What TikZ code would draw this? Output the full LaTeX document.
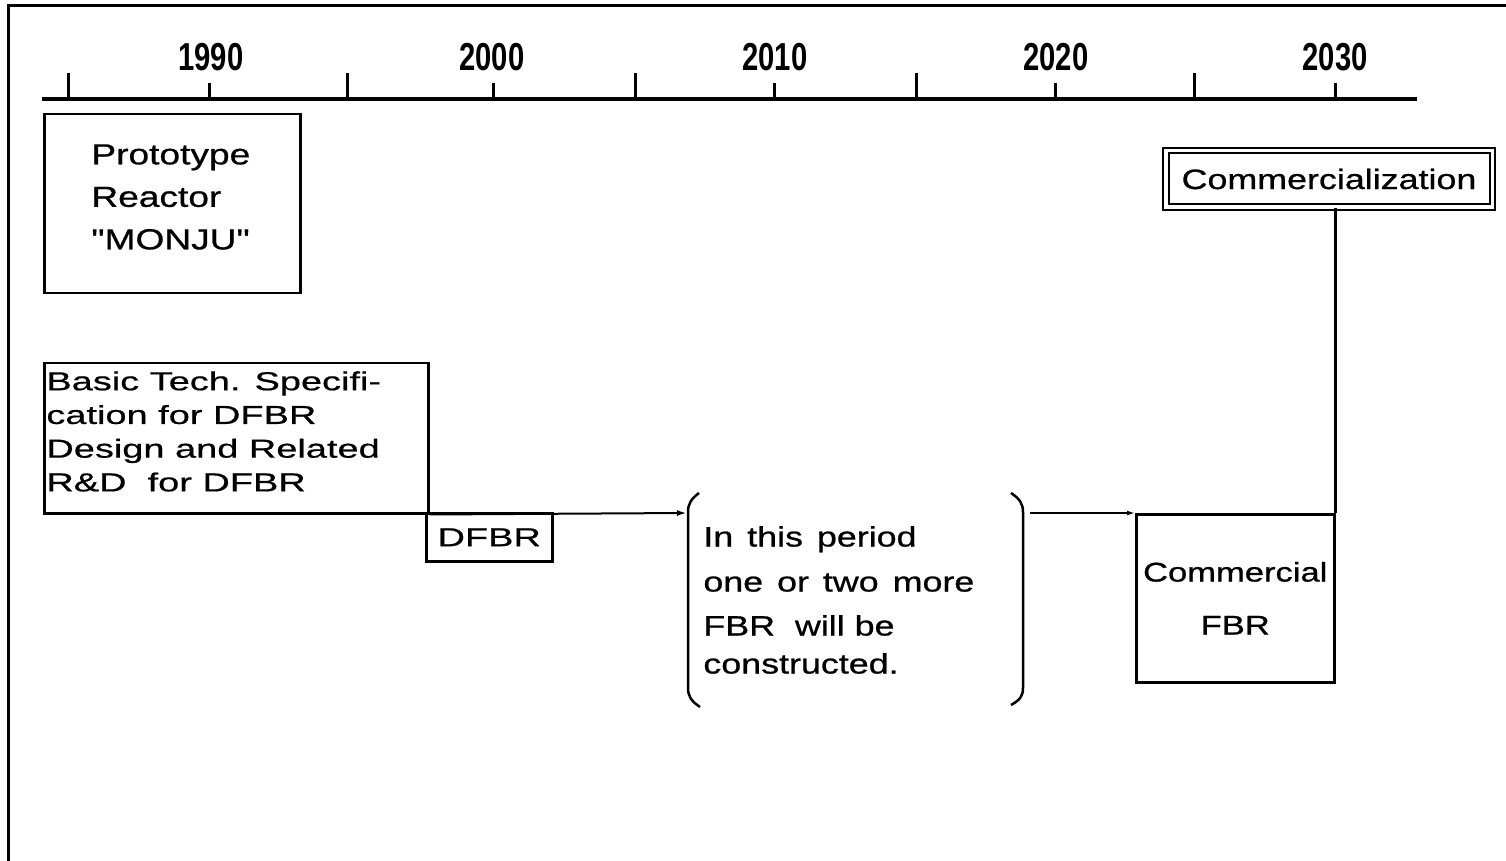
\documentclass[tikz,border=0pt]{standalone}
\usepackage{fontspec}
\usetikzlibrary{arrows.meta}
\newfontfamily\mainf[FakeStretch=1.28,FakeBold=0.8]{Liberation Sans}
\newfontfamily\widef[FakeStretch=1.46,FakeBold=0.6]{Liberation Sans}
\newfontfamily\yearf[FakeStretch=0.75]{Liberation Sans}
\newcommand\gap{\ \hspace{2pt}}
\begin{document}
\begin{tikzpicture}[x=0.5pt,y=-0.5pt]
\useasboundingbox (0,0) rectangle (1506,861);
\tikzset{
  frame/.style={line width=1.5pt},
  axisline/.style={line width=1.75pt},
  tickmark/.style={line width=1.5pt},
  year/.style={font=\yearf\bfseries\fontsize{19.5}{22}\selectfont, inner sep=0},
  box/.style={draw, line width=1.25pt, inner sep=0, anchor=north west},
  txt/.style={font=\mainf\fontsize{14}{21}\selectfont, inner sep=0, align=left},
  widetxt/.style={font=\widef\fontsize{13}{16.85}\selectfont, inner sep=0, align=left},
  conn/.style={line width=1pt},
  brk/.style={line width=1.25pt},
  tip/.style={-{Latex[length=5pt,width=3pt]}}
}
% frame
\draw[frame] (8,861) -- (8,6) -- (1506,6);
% axis
\draw[axisline] (42,99) -- (1417,99);
\foreach \x in {68,347,635,916,1194} \draw[tickmark] (\x,73) -- (\x,99);
\foreach \x in {209,493,774,1055,1335} \draw[tickmark] (\x,83) -- (\x,99);
\node[year] (y1990) at (211,57) {1990};
\node[year] (y2000) at (492,57) {2000};
\node[year] (y2010) at (775,57) {2010};
\node[year] (y2020) at (1056,57) {2020};
\node[year] (y2030) at (1335,57) {2030};
% MONJU
\node[box, minimum width=128pt, minimum height=89.5pt] (monju) at (43,113) {};
\node[txt, anchor=west, font=\mainf\fontsize{14.5}{21.25}\selectfont] (monjut) at (91,197) {Prototype\\Reactor\\"MONJU"};
% Basic tech
\node[box, minimum width=192pt, minimum height=75pt] (basic) at (43,362) {};
\node[widetxt, anchor=west] (basict) at (46,431.5) {Basic Tech. Specifi-\\cation for DFBR\\Design and Related\\R\&D\ \ for DFBR};
% DFBR
\node[box, minimum width=63pt, minimum height=24pt, font=\widef\fontsize{13}{16}\selectfont] (dfbr) at (425,512) {DFBR};
% brackets
\draw[brk] (699,493) .. controls (691,499) and (688,504) .. (688,512) -- (688,688) .. controls (688,696) and (691,701) .. (700,707);
\draw[brk] (1011,493) .. controls (1020,499) and (1023,504) .. (1023,512) -- (1023,688) .. controls (1023,696) and (1020,700) .. (1011,705);
\coordinate (lb) at (687,513);
\coordinate (rb) at (1030,513);
\node[txt, anchor=west, font=\mainf\fontsize{14}{19}\selectfont] (period) at (703,600) {In\gap this\gap period\\[3.5pt]one\gap or\gap two\gap more\\[3pt]FBR\ \ will\ be\\constructed.};
% Commercial FBR
\node[box, minimum width=99pt, minimum height=84pt, align=center, font=\mainf\fontsize{13.5}{26.5}\selectfont] (cfbr) at (1135,513) {Commercial\\FBR};
% Commercialization
\node[draw, double, double distance=1.75pt, line width=1pt, minimum width=163.25pt, minimum height=28.25pt, inner sep=0, font=\mainf\fontsize{14}{18}\selectfont] (comm) at (1329,179) {Commercialization};
% connectors
\draw[conn, tip] (basic.south east) -- (lb);
\draw[conn, -{Latex[length=4pt,width=2.5pt]}] (rb) -- (cfbr.north west);
\draw[line width=1.25pt] (comm.south -| cfbr.north east) -- (cfbr.north east);
\end{tikzpicture}
\end{document}
